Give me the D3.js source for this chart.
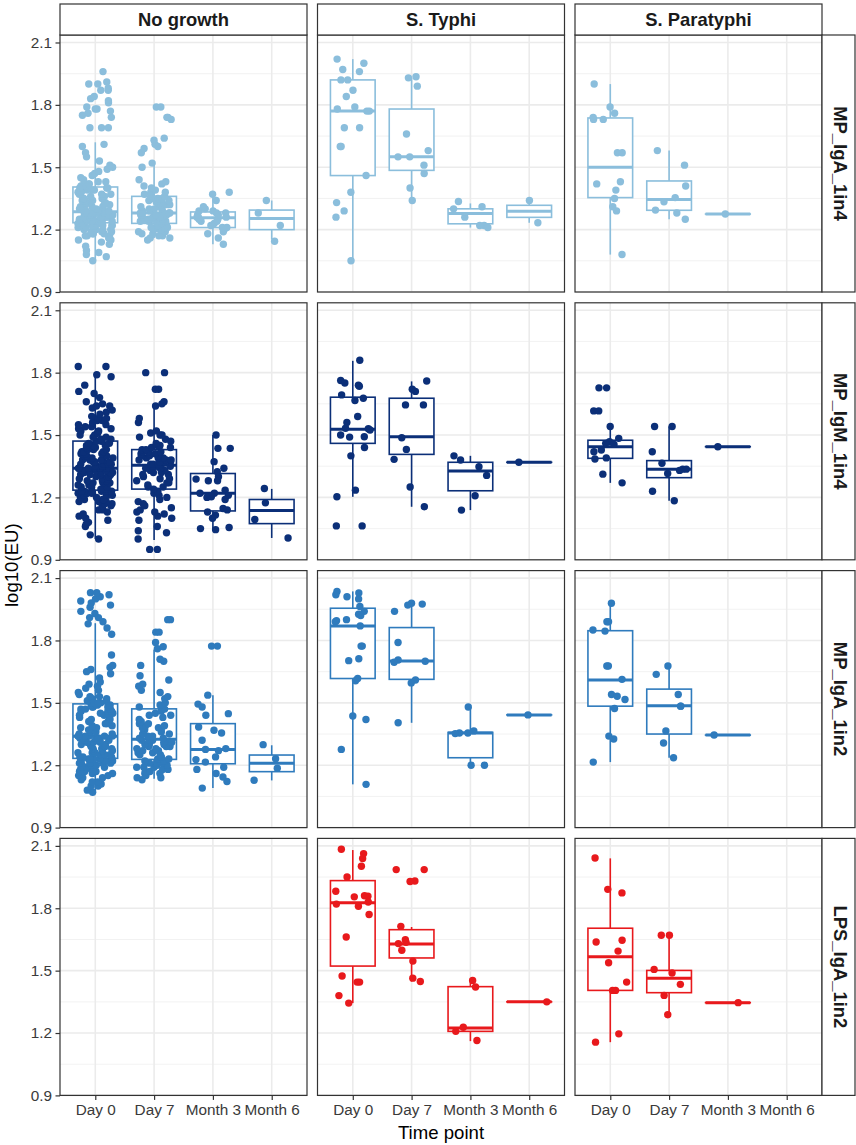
<!DOCTYPE html>
<html><head><meta charset="utf-8">
<script src="https://cdn.jsdelivr.net/npm/d3@7"></script>
<style>body{margin:0;background:#fff}text{font-family:"Liberation Sans",Arial,Helvetica,sans-serif}</style>
</head><body>
<svg id="chart" width="856" height="1145"></svg>
<script>
// ---------- categories ----------
const groups = ["No growth", "S. Typhi", "S. Paratyphi"];
const assays = ["MP_IgA_1in4", "MP_IgM_1in4", "MP_IgA_1in2", "LPS_IgA_1in2"];
const timepoints = ["Day 0", "Day 7", "Month 3", "Month 6"];
const yTicks = [0.9, 1.2, 1.5, 1.8, 2.1];
const yMinor = [1.05, 1.35, 1.65, 1.95];
const colors = ["#8BBEDC", "#0B2F78", "#2F7BBD", "#E8191C"];

// ---------- point values (log10 EU), per time point ----------
const igA4_none = [
 [1.05,1.07,1.08,1.09,1.10,1.12,1.13,1.14,1.15,1.15,1.16,1.16,1.17,1.17,1.17,1.18,1.18,1.18,1.19,1.19,1.19,1.20,1.20,1.20,1.20,1.21,1.21,1.21,1.21,1.22,1.22,1.22,1.22,1.22,1.23,1.23,1.23,1.23,1.23,1.23,
  1.24,1.24,1.24,1.24,1.24,1.25,1.25,1.25,1.25,1.25,1.25,1.26,1.26,1.26,1.26,1.26,1.26,1.26,1.27,1.27,1.27,1.27,1.27,1.27,1.27,1.27,1.28,1.28,1.28,1.28,1.28,1.28,1.28,1.28,1.28,1.28,1.29,1.29,1.29,1.29,
  1.29,1.29,1.30,1.30,1.30,1.31,1.31,1.31,1.32,1.32,1.32,1.33,1.33,1.33,1.34,1.34,1.34,1.35,1.35,1.35,1.36,1.36,1.36,1.37,1.37,1.37,1.38,1.38,1.38,1.38,1.39,1.39,1.39,1.40,1.40,1.40,1.40,1.40,1.41,1.41,
  1.41,1.42,1.42,1.43,1.43,1.44,1.45,1.46,1.47,1.48,1.49,1.50,1.51,1.53,1.55,1.57,1.60,1.61,1.69,1.69,1.69,1.74,1.75,1.76,1.77,1.78,1.78,1.79,1.81,1.82,1.83,1.84,1.87,1.87,1.88,1.90,1.90,1.91,1.96],
 [1.15,1.16,1.16,1.17,1.17,1.18,1.18,1.19,1.19,1.19,1.20,1.20,1.20,1.21,1.21,1.21,1.22,1.22,1.22,1.23,1.23,1.23,
  1.24,1.24,1.24,1.24,1.25,1.25,1.25,1.25,1.25,1.26,1.26,1.26,1.26,1.26,1.27,1.27,1.27,1.27,1.27,1.28,1.28,1.28,1.28,
  1.29,1.29,1.29,1.30,1.30,1.30,1.31,1.31,1.31,1.32,1.32,1.32,1.33,1.33,1.33,1.34,1.34,1.34,1.35,1.35,1.35,1.36,1.36,
  1.37,1.38,1.38,1.39,1.40,1.41,1.42,1.43,1.44,1.50,1.52,1.57,1.59,1.60,1.61,1.63,1.64,1.73,1.74,1.74,1.79,1.79],
 [1.13,1.16,1.18,1.19,1.20,1.21,1.21,1.22,1.23,1.24,1.24,1.25,1.25,1.26,1.26,1.26,1.27,1.27,1.28,1.28,1.29,1.29,1.30,1.31,1.34,1.37,1.38],
 [1.34,1.28,1.22,1.144]
];
const igA4_typhi = [
 [2.02,2.0,1.97,1.96,1.92,1.92,1.87,1.84,1.79,1.78,1.77,1.77,1.69,1.69,1.60,1.60,1.46,1.38,1.33,1.29,1.26,1.05],
 [1.935,1.93,1.89,1.66,1.58,1.55,1.55,1.51,1.47,1.40,1.34],
 [1.335,1.31,1.30,1.26,1.22,1.21,1.22],
 [1.34,1.233]
];
const igA4_para = [
 [1.90,1.79,1.76,1.74,1.73,1.73,1.57,1.57,1.43,1.42,1.39,1.35,1.31,1.29,1.08],
 [1.58,1.51,1.41,1.354,1.334,1.294,1.28,1.25],
 [1.275],
 []
];
const igM4_none = [
 [1.00,1.02,1.06,1.07,1.08,1.09,1.10,1.11,1.12,1.13,1.14,1.14,1.15,1.16,1.16,1.17,1.17,1.18,1.18,1.18,1.19,1.19,1.19,1.20,1.20,1.20,1.21,1.21,1.21,1.21,1.22,1.22,1.22,1.22,1.23,1.23,1.23,1.23,1.23,1.23,
  1.24,1.24,1.25,1.25,1.25,1.26,1.26,1.26,1.27,1.27,1.27,1.28,1.28,1.28,1.29,1.29,1.29,1.30,1.30,1.30,1.31,1.31,1.31,1.31,1.32,1.32,1.32,1.32,1.33,1.33,1.33,1.33,1.33,1.34,1.34,1.34,1.34,1.34,1.34,1.34,
  1.35,1.35,1.35,1.35,1.36,1.36,1.36,1.36,1.37,1.37,1.37,1.37,1.38,1.38,1.38,1.38,1.39,1.39,1.39,1.40,1.40,1.40,1.41,1.41,1.41,1.42,1.42,1.42,1.43,1.43,1.43,1.44,1.44,1.45,1.45,1.45,1.46,1.46,1.47,1.47,
  1.48,1.48,1.49,1.49,1.50,1.50,1.51,1.51,1.52,1.52,1.53,1.53,1.54,1.54,1.55,1.55,1.56,1.57,1.57,1.58,1.58,1.59,1.60,1.61,1.62,1.63,1.64,1.64,1.65,1.66,1.68,1.70,1.71,1.74,1.78,1.79,1.83,1.83],
 [0.95,0.95,1.00,1.03,1.04,1.06,1.09,1.10,1.11,1.12,1.13,1.13,1.14,1.15,1.16,1.17,1.18,1.19,1.20,1.21,1.22,1.23,
  1.24,1.25,1.25,1.26,1.27,1.27,1.28,1.29,1.29,1.30,1.31,1.31,1.32,1.32,1.33,1.33,1.34,1.34,1.34,1.35,1.35,1.35,1.35,
  1.36,1.36,1.36,1.37,1.37,1.37,1.38,1.38,1.38,1.39,1.39,1.39,1.40,1.40,1.40,1.41,1.41,1.41,1.42,1.42,1.42,1.43,1.43,
  1.44,1.44,1.45,1.45,1.46,1.47,1.48,1.49,1.50,1.50,1.51,1.52,1.56,1.58,1.64,1.65,1.66,1.72,1.72,1.80,1.80],
 [1.50,1.436,1.436,1.372,1.34,1.324,1.30,1.288,1.28,1.28,1.235,1.22,1.22,1.21,1.203,1.20,1.19,1.147,1.14,1.13,1.115,1.10,1.055,1.05,1.045],
 [1.243,1.174,1.094,1.005]
];
const igM4_typhi = [
 [1.86,1.762,1.75,1.74,1.735,1.693,1.677,1.666,1.589,1.56,1.533,1.53,1.524,1.50,1.492,1.49,1.44,1.40,1.235,1.203,1.063,1.063],
 [1.76,1.72,1.71,1.645,1.645,1.487,1.431,1.383,1.25,1.155],
 [1.40,1.38,1.348,1.306,1.208,1.139],
 [1.369]
];
const igM4_para = [
 [1.727,1.727,1.616,1.616,1.541,1.484,1.468,1.46,1.455,1.428,1.42,1.39,1.385,1.312,1.27],
 [1.541,1.541,1.42,1.364,1.336,1.336,1.33,1.315,1.23,1.184],
 [1.444],
 []
];
const igA2_none = [
 [1.07,1.08,1.10,1.10,1.11,1.12,1.12,1.13,1.14,1.14,1.15,1.15,1.16,1.16,1.17,1.17,1.17,1.18,1.18,1.18,1.19,1.19,1.19,1.20,1.20,1.20,1.21,1.21,1.21,1.21,1.22,1.22,1.22,1.22,1.23,1.23,1.23,1.23,1.23,1.23,
  1.24,1.24,1.24,1.25,1.25,1.25,1.26,1.26,1.26,1.27,1.27,1.27,1.28,1.28,1.28,1.29,1.29,1.29,1.30,1.30,1.30,1.31,1.31,1.31,1.32,1.32,1.32,1.32,1.33,1.33,1.33,1.33,1.33,1.34,1.34,1.34,1.34,1.34,1.34,1.34,
  1.35,1.35,1.36,1.36,1.37,1.37,1.38,1.38,1.39,1.39,1.40,1.40,1.41,1.41,1.42,1.42,1.43,1.43,1.44,1.44,1.45,1.45,1.45,1.46,1.46,1.46,1.47,1.47,1.47,1.48,1.48,1.48,1.49,1.49,1.49,1.49,1.50,1.50,1.50,1.50,
  1.51,1.51,1.52,1.52,1.53,1.53,1.54,1.55,1.56,1.57,1.58,1.59,1.60,1.62,1.64,1.65,1.66,1.67,1.68,1.73,1.83,1.86,1.88,1.89,1.91,1.91,1.93,1.94,1.96,1.97,1.98,1.99,2.00,2.01,2.02,2.03,2.03],
 [1.13,1.14,1.14,1.15,1.16,1.16,1.17,1.17,1.18,1.18,1.19,1.19,1.19,1.20,1.20,1.21,1.21,1.21,1.22,1.22,1.22,1.23,
  1.23,1.24,1.24,1.25,1.25,1.26,1.26,1.27,1.27,1.28,1.28,1.29,1.29,1.29,1.30,1.30,1.30,1.31,1.31,1.31,1.32,1.32,1.32,
  1.33,1.33,1.34,1.34,1.35,1.35,1.36,1.37,1.37,1.38,1.38,1.39,1.39,1.40,1.40,1.41,1.42,1.43,1.44,1.44,1.45,1.46,1.47,
  1.48,1.49,1.50,1.52,1.53,1.55,1.56,1.58,1.59,1.61,1.63,1.68,1.70,1.71,1.76,1.77,1.79,1.84,1.84,1.90,1.90],
 [1.773,1.773,1.537,1.494,1.48,1.448,1.44,1.384,1.368,1.355,1.32,1.28,1.276,1.27,1.24,1.227,1.215,1.19,1.18,1.16,1.143,1.122,1.09],
 [1.299,1.231,1.186,1.128]
];
const igA2_typhi = [
 [2.036,2.028,2.02,2.01,2.0,1.963,1.94,1.926,1.92,1.90,1.895,1.89,1.87,1.773,1.773,1.712,1.703,1.617,1.606,1.437,1.42,1.276,1.108],
 [1.979,1.975,1.94,1.97,1.79,1.706,1.70,1.695,1.61,1.596,1.404],
 [1.48,1.355,1.355,1.352,1.365,1.2,1.2],
 [1.442]
];
const igA2_para = [
 [1.979,1.89,1.89,1.85,1.845,1.677,1.677,1.613,1.54,1.532,1.516,1.473,1.34,1.326,1.215],
 [1.677,1.637,1.54,1.484,1.484,1.365,1.307,1.236],
 [1.345],
 []
];
const lps2_none = [[], [], [], []];
const lps2_typhi = [
 [2.084,2.063,2.039,2.002,1.95,1.882,1.858,1.86,1.855,1.83,1.82,1.81,1.77,1.662,1.474,1.445,1.445,1.38,1.344],
 [1.986,1.986,1.931,1.929,1.713,1.649,1.636,1.63,1.598,1.546,1.464,1.448],
 [1.453,1.421,1.228,1.208,1.164],
 [1.35]
];
const lps2_para = [
 [2.042,1.891,1.874,1.646,1.638,1.594,1.538,1.445,1.405,1.405,1.196,1.156],
 [1.67,1.67,1.506,1.489,1.434,1.381,1.288],
 [1.346],
 []
];

// ---------- box statistics: [lower, q1, median, q3, upper] ----------
const igA4_none_box  = [[1.05,1.233,1.286,1.405,1.62],[1.16,1.23,1.28,1.36,1.52],[1.13,1.21,1.257,1.285,1.386],[1.153,1.20,1.254,1.294,1.34]];
const igA4_typhi_box = [[1.045,1.46,1.77,1.92,2.02],[1.34,1.485,1.55,1.78,1.93],[1.21,1.228,1.277,1.30,1.326],[1.233,1.259,1.288,1.317,1.34]];
const igA4_para_box  = [[1.08,1.354,1.50,1.737,1.90],[1.25,1.293,1.345,1.434,1.58],[1.275,1.275,1.275,1.275,1.275],null];
const igM4_none_box  = [[1.0,1.235,1.34,1.471,1.785],[0.995,1.24,1.355,1.43,1.637],[1.045,1.135,1.22,1.315,1.50],[1.005,1.074,1.137,1.19,1.241]];
const igM4_typhi_box = [[1.203,1.46,1.528,1.682,1.857],[1.155,1.407,1.492,1.677,1.758],[1.139,1.232,1.327,1.369,1.40],[1.369,1.369,1.369,1.369,1.369]];
const igM4_para_box  = [[1.27,1.388,1.444,1.475,1.537],[1.184,1.295,1.336,1.377,1.541],[1.444,1.444,1.444,1.444,1.444],null];
const igA2_none_box  = [[1.067,1.233,1.339,1.495,1.883],[1.135,1.228,1.325,1.471,1.757],[1.09,1.207,1.276,1.40,1.537],[1.127,1.169,1.21,1.249,1.296]];
const igA2_typhi_box = [[1.108,1.617,1.87,1.955,2.036],[1.404,1.613,1.701,1.862,1.975],[1.2,1.236,1.355,1.358,1.48],[1.442,1.442,1.442,1.442,1.442]];
const igA2_para_box  = [[1.215,1.484,1.61,1.847,1.975],[1.236,1.35,1.486,1.566,1.677],[1.345,1.345,1.345,1.345,1.345],null];
const lps2_none_box  = [null,null,null,null];
const lps2_typhi_box = [[1.344,1.522,1.826,1.933,2.08],[1.448,1.561,1.628,1.697,1.71],[1.161,1.208,1.224,1.423,1.453],[1.35,1.35,1.35,1.35,1.35]];
const lps2_para_box  = [[1.156,1.405,1.567,1.704,2.04],[1.288,1.394,1.463,1.501,1.662],[1.346,1.346,1.346,1.346,1.346],null];

const pointTable = [
  [igA4_none, igA4_typhi, igA4_para],
  [igM4_none, igM4_typhi, igM4_para],
  [igA2_none, igA2_typhi, igA2_para],
  [lps2_none, lps2_typhi, lps2_para]
];
const boxTable = [
  [igA4_none_box, igA4_typhi_box, igA4_para_box],
  [igM4_none_box, igM4_typhi_box, igM4_para_box],
  [igA2_none_box, igA2_typhi_box, igA2_para_box],
  [lps2_none_box, lps2_typhi_box, lps2_para_box]
];

// ---------- layout ----------
const panelW = 247, panelH = 257;
const colLeft = c => 60 + c * 257.5;
const rowTop = r => 35 + r * 267.8;
const stripTopY = 4, stripRightX = 822, stripRightW = 33;
const border = "#333333", grid = "#EBEBEB";
const FONT = '"Liberation Sans",Arial,sans-serif';

const svg = d3.select("#chart");
const rng = d3.randomLcg(0.4217);
const jitter = d3.randomUniform.source(rng)(-0.3, 0.3);

assays.forEach((assay, r) => {
  const top = rowTop(r);
  const y = d3.scaleLinear().domain([0.9, 2.136]).range([top + panelH, top]);
  groups.forEach((grp, c) => {
    const left = colLeft(c);
    const x = d3.scalePoint().domain(timepoints).range([left, left + panelW]).padding(0.6);
    const step = x.step();
    const g = svg.append("g");
    g.append("rect").attr("x", left).attr("y", top).attr("width", panelW).attr("height", panelH).attr("fill", "#fff");
    // grid
    g.selectAll(".mi").data(yMinor).join("line")
      .attr("x1", left).attr("x2", left + panelW).attr("y1", d => y(d)).attr("y2", d => y(d))
      .attr("stroke", "#F0F0F0").attr("stroke-width", 0.9);
    g.selectAll(".ma").data(yTicks).join("line")
      .attr("x1", left).attr("x2", left + panelW).attr("y1", d => y(d)).attr("y2", d => y(d))
      .attr("stroke", grid).attr("stroke-width", 1.6);
    g.selectAll(".vx").data(timepoints).join("line")
      .attr("x1", d => x(d)).attr("x2", d => x(d)).attr("y1", top).attr("y2", top + panelH)
      .attr("stroke", grid).attr("stroke-width", 1.6);

    const col = colors[r];
    const boxes = boxTable[r][c];
    const bw = 0.76 * step;
    timepoints.forEach((tp, i) => {
      const b = boxes[i];
      if (!b) return;
      const cx = x(tp);
      g.append("line").attr("x1", cx).attr("x2", cx).attr("y1", y(b[3])).attr("y2", y(b[4]))
        .attr("stroke", col).attr("stroke-width", 1.6);
      g.append("line").attr("x1", cx).attr("x2", cx).attr("y1", y(b[1])).attr("y2", y(b[0]))
        .attr("stroke", col).attr("stroke-width", 1.6);
      g.append("rect").attr("x", cx - bw / 2).attr("y", y(b[3])).attr("width", bw)
        .attr("height", Math.max(0.01, y(b[1]) - y(b[3])))
        .attr("fill", "#fff").attr("stroke", col).attr("stroke-width", 1.6);
      g.append("line").attr("x1", cx - bw / 2).attr("x2", cx + bw / 2).attr("y1", y(b[2])).attr("y2", y(b[2]))
        .attr("stroke", col).attr("stroke-width", 3);
    });
    const pts = pointTable[r][c];
    timepoints.forEach((tp, i) => {
      g.selectAll(null).data(pts[i]).join("circle")
        .attr("cx", () => x(tp) + jitter() * step)
        .attr("cy", d => y(d))
        .attr("r", 3.7)
        .attr("fill", col);
    });
    g.append("rect").attr("x", left).attr("y", top).attr("width", panelW).attr("height", panelH)
      .attr("fill", "none").attr("stroke", border).attr("stroke-width", 1.2);

    // y axis on first column
    if (c === 0) {
      const ax = svg.append("g").attr("transform", `translate(${left},0)`)
        .call(d3.axisLeft(y).tickValues(yTicks).tickFormat(d3.format(".1f")).tickSize(4.5).tickPadding(3.5));
      ax.select(".domain").remove();
      ax.selectAll(".tick line").attr("stroke", border).attr("stroke-width", 1.2);
      ax.selectAll(".tick text").attr("fill", "#3A3A3A").style("font-size", "15.3px").style("font-family", FONT);
    }
    // x axis on last row
    if (r === assays.length - 1) {
      const ax = svg.append("g").attr("transform", `translate(0,${top + panelH})`)
        .call(d3.axisBottom(x).tickSize(4.5).tickPadding(4));
      ax.select(".domain").remove();
      ax.selectAll(".tick line").attr("stroke", border).attr("stroke-width", 1.2);
      ax.selectAll(".tick text").attr("fill", "#3A3A3A").style("font-size", "15.3px").style("font-family", FONT);
    }
    // top strips
    if (r === 0) {
      svg.append("rect").attr("x", left).attr("y", stripTopY).attr("width", panelW).attr("height", top - stripTopY)
        .attr("fill", "#fff").attr("stroke", border).attr("stroke-width", 1.2);
      svg.append("text").attr("x", left + panelW / 2).attr("y", 26.4).attr("text-anchor", "middle")
        .style("font-size", "18.4px").style("font-weight", "bold").attr("fill", "#1A1A1A").text(grp);
    }
  });
  // right strip
  svg.append("rect").attr("x", stripRightX).attr("y", top).attr("width", stripRightW).attr("height", panelH)
    .attr("fill", "#fff").attr("stroke", border).attr("stroke-width", 1.2);
  svg.append("text").attr("transform", `translate(${stripRightX + 11.5},${top + panelH / 2}) rotate(90)`)
    .attr("text-anchor", "middle").style("font-size", "18.4px").style("font-weight", "bold")
    .attr("fill", "#1A1A1A").text(assay);
});

// axis titles
svg.append("text").attr("x", (colLeft(0) + colLeft(2) + panelW) / 2).attr("y", 1139).attr("text-anchor", "middle")
  .style("font-size", "18.6px").attr("fill", "#000").text("Time point");
svg.append("text").attr("transform", `translate(17.5,${(rowTop(0) + rowTop(3) + panelH) / 2}) rotate(-90)`)
  .attr("text-anchor", "middle").style("font-size", "18.6px").attr("fill", "#000").text("log10(EU)");
</script>
</body></html>
